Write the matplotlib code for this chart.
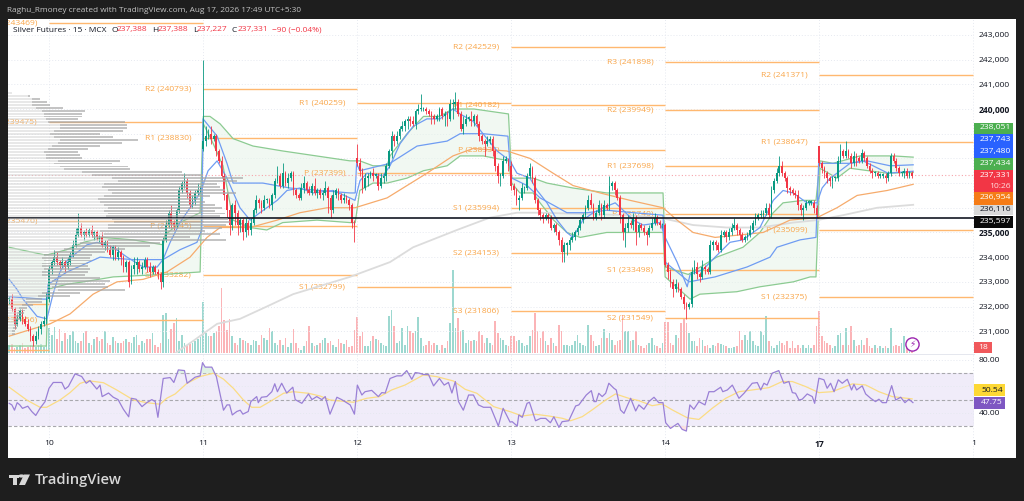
import matplotlib
matplotlib.use("Agg")
import matplotlib.pyplot as plt
import numpy as np
from matplotlib.patches import Rectangle, Polygon, Circle

plt.rcParams['font.family'] = ['Open Sans', 'DejaVu Sans']

W, H = 1024, 501

# closes per session, in hundreds of rupees
close_d09 = [2323,2319,2313,2315,2318,2315,2313,2311,2308,2306,2308,2311,2313,2314,2323]
close_d10 = [2335,2338,2340,2338,2337,2338,2336,2338,2341,2345,
             2349,2352,2349,2350,2349,2351,2349,2350,2348,2348,
             2345,2346,2343,2341,2344,2340,2342,2340,2336,2338,
             2330,2335,2337,2338,2335,2336,2339,2336,2334,2336,
             2334,2333,2330,2347,2353,2358,2354,2353,2359,2367,
             2370,2371,2366,2361,2363,2366,2367,2368]
close_d11 = [2387,2389,2390,2388,2389,2383,2379,2373,2365,2359,
             2353,2361,2358,2353,2355,2350,2354,2351,2354,2359,
             2363,2362,2360,2363,2363,2361,2365,2371,2373,2369,
             2374,2370,2372,2374,2367,2365,2364,2368,2370,2367,
             2366,2369,2366,2367,2365,2366,2368,2364,2359,2365,
             2367,2365,2363,2364,2363,2361,2354,2353]
close_d12 = [2378,2375,2368,2372,2373,2374,2373,2373,2369,2372,
             2373,2377,2383,2389,2387,2389,2392,2393,2395,2396,
             2395,2394,2399,2400,2400,2400,2399,2398,2397,2396,
             2397,2400,2397,2398,2396,2402,2402,2403,2398,2392,
             2394,2396,2396,2395,2397,2394,2389,2387,2386,2387,
             2388,2383,2377,2373,2373,2379,2379,2377]
close_d13 = [2369,2367,2363,2364,2368,2368,2373,2376,2372,2363,
             2359,2357,2356,2357,2356,2352,2353,2350,2347,2342,
             2345,2345,2347,2348,2350,2352,2355,2357,2360,2363,
             2361,2356,2358,2361,2357,2361,2360,2369,2370,2367,
             2364,2357,2350,2352,2354,2353,2356,2350,2353,2352,
             2350,2349,2352,2354,2356,2354,2353,2353]
close_d14 = [2337,2334,2330,2327,2329,2327,2324,2321,2320,2321,
             2334,2336,2333,2332,2336,2335,2334,2345,2346,2345,
             2343,2349,2350,2348,2350,2352,2353,2351,2349,2347,
             2348,2349,2351,2354,2356,2357,2357,2358,2360,2357,
             2367,2371,2374,2377,2374,2372,2368,2367,2366,2365,
             2361,2359,2360,2362,2362,2362,2360,2357]
close_d17 = [2378,2376,2374,2372,2371,2372,2372,2379,2383,2381,
             2383,2381,2378,2381,2380,2379,2382,2380,2377,2375,
             2374,2374,2373,2373,2373,2372,2374,2381,2379,2376,
             2374,2374,2375,2373,2374,2373]
gap_opens = {73: 2384, 131: 2380, 305: 2385}

# upper and lower wicks beyond the body, same units
up_d09 = [1,2,1,2,1,1,1,2,1,1,2,1,1,2,3]
dn_d09 = [2,1,2,1,1,2,1,1,2,2,1,1,2,1,1]
up_d10 = [2,1,3,2,1,2,1,2,1,2, 3,6,2,1,2,1,2,1,1,1, 2,1,1,2,1,1,2,1,1,1,
          1,2,3,2,1,2,1,1,2,1, 1,1,1,1,2,1,3,1,1,2, 1,3,1,1,2,1,3,1]
dn_d10 = [1,2,1,1,2,1,2,1,1,1, 1,1,1,2,1,1,1,2,1,2, 1,2,1,1,2,1,1,3,2,2,
          2,1,2,4,1,2,1,2,2,1, 1,2,3,2,1,1,2,2,1,1, 1,2,2,1,1,2,1,1]
up_d11 = [33,4,2,3,1,1,1,2,1,1, 2,1,2,1,1,1,2,1,2,1, 2,1,1,2,1,1,1,1,4,1,
          4,1,2,1,1,1,1,2,3,1, 2,1,3,1,1,1,3,1,1,2, 1,1,1,2,1,1,1,1]
dn_d11 = [1,2,1,2,1,2,1,1,2,3, 4,2,5,4,3,3,2,2,2,1, 1,2,2,1,1,1,2,1,1,1,
          1,1,2,1,2,1,1,1,2,1, 1,1,1,2,1,2,1,6,3,1, 1,2,1,1,1,2,2,7]
up_d12 = [6,2,1,2,1,1,2,1,1,2, 1,1,1,2,1,2,1,2,1,1, 1,2,1,2,6,1,1,1,1,1,
          1,1,1,1,1,2,2,4,1,1, 3,2,1,3,1,1,1,1,1,2, 1,1,1,1,1,2,2,1]
dn_d12 = [1,2,2,1,3,1,2,1,2,1, 2,2,1,3,2,1,1,1,2,3, 2,1,2,1,1,1,1,1,3,2,
          1,2,1,4,3,1,6,2,1,1, 2,1,1,2,2,1,2,1,5,1, 1,2,2,3,4,1,1,2]
up_d13 = [2,1,1,1,2,1,1,2,1,1, 1,1,1,1,1,1,1,1,1,1, 1,1,1,2,1,1,1,1,1,2,
          3,1,1,2,1,2,1,4,1,1, 1,1,1,2,3,1,2,1,1,1, 1,1,1,2,2,1,1,1]
dn_d13 = [2,2,2,4,1,2,1,1,2,1, 2,2,2,1,2,1,2,1,2,4, 4,4,2,1,1,1,1,1,1,1,
          1,1,1,1,2,1,1,1,2,2, 1,3,3,6,2,1,2,5,2,1, 1,4,1,1,1,1,1,1]
up_d14 = [1,1,1,1,2,1,1,1,1,1, 2,3,2,1,3,1,1,2,1,1, 1,2,1,1,2,2,3,1,1,1,
          1,1,2,1,2,1,2,1,2,2, 2,1,2,4,2,1,1,1,1,1, 2,1,1,1,1,1,1,1]
dn_d14 = [1,3,2,3,1,1,1,2,5,1, 1,1,2,2,1,2,1,1,2,2, 1,1,1,2,1,1,1,2,2,1,
          1,1,1,1,1,1,1,1,1,1, 1,1,1,1,1,1,2,2,1,1, 2,2,4,1,1,1,2,1]
up_d17 = [0,1,1,1,1,1,1,2,3,1, 4,1,1,2,1,1,2,1,1,1, 1,1,1,1,1,1,1,1,1,1, 1,1,1,1,1,1]
dn_d17 = [1,2,2,2,2,3,1,1,1,1, 1,1,2,1,3,1,1,1,1,1, 2,1,1,1,1,2,1,1,1,1, 1,1,2,1,1,1]

# volume per bar
vol_d09 = [8,9,5,6,8,10,5,6,8,7,6,8,9,6,22]
vol_d10 = [25,18,26,14,24,12,20,14,18,22, 12,10,12,20,22,10,8,14,16,12,
           14,22,10,8,16,12,10,10,12,14, 11,10,16,18,8,12,10,14,14,20,
           8,6,10,38,40,14,24,30,35,12, 18,10,8,9,10,12,14,16]
vol_d11 = [51,20,17,17,20,22,27,65,33,23, 34,17,10,8,15,13,12,10,8,13,
           12,8,18,15,13,25,22,10,8,13, 8,15,6,10,24,10,5,3,7,12,
           27,10,7,8,10,13,15,10,12,8, 6,14,10,9,13,6,7,23]
vol_d12 = [36,17,21,7,7,12,17,14,13,10, 8,7,37,43,27,10,12,25,8,27,
           22,20,22,36,15,7,8,12,8,10, 8,3,8,5,12,30,83,25,35,22,
           23,10,13,12,13,12,22,18,10,15, 10,8,32,20,15,13,8,7]
vol_d13 = [17,17,12,13,10,7,8,17,23,40, 22,15,22,12,8,15,10,7,28,22,
           8,8,7,8,12,18,10,8,7,28, 18,12,7,8,15,24,15,20,13,8,
           12,13,38,22,22,12,13,22,8,7, 5,8,10,15,8,7,5,10]
vol_d14 = [31,31,10,8,18,15,30,34,30,20, 12,12,7,15,13,7,8,5,8,7,
           10,9,8,7,5,5,6,7,22,13, 18,13,22,12,8,7,22,18,37,12,
           7,5,8,12,10,8,12,5,12,5, 8,5,8,5,8,5,8,27]
vol_d17 = [42,17,12,10,8,5,7,18,20,8, 25,8,27,13,7,8,13,8,15,7,
           5,8,5,7,5,7,5,25,7,8, 7,10,17,8,7,3]

# overlay lines: bar number and price (hundreds)
fast_bars = [0,2.9,5.2,10.5,14.2,16.5,19.1,22.1,29.3,33.1,
             39.1,44.4,50.4,55.7,57.9,60.6,64.3,68.1,71.9,74.9,
             78.3,82,86.9,90.7,94.4,100.9,104.6,109.5,114.4,121.9,
             128.3,130.2,132.1,134.7,140.8,143.4,147.2,152.1,157.3,162.2,
             167.1,169.8,174.7,178.4,183.7,188.6,191.2,196.1,198.8,202.5,
             206.3,210,212.3,216,219.9,223.6,228.2,231.2,235,238.7,
             245.1,247,251.5,255.3,256.4,261.3,265.8,271.4,276.3,282.7,
             287.7,291.4,295.2,300.4,304.2,306.1,309.1,311.7,316.6,321.5,
             325.3,330.9,340.4]
fast_vals = [2331,2327,2323,2316,2315,2325,2334,2339,2345,2346,
             2344,2340,2336,2336,2339,2346,2354,2360,2366,2375,
             2379,2372,2360,2355,2358,2363,2367,2368,2366,2367,
             2364,2363,2371,2374,2373,2377,2386,2393,2396,2396,
             2400,2398,2395,2390,2383,2379,2374,2372,2367,2362,
             2355,2350,2348,2355,2358,2360,2362,2359,2355,2353,
             2354,2348,2338,2328,2333,2335,2340,2346,2347,2352,
             2363,2367,2366,2362,2362,2368,2372,2374,2378,2379,
             2377,2374,2374.8]
slow_bars = [0,13,14.3,14.6,21.8,34.2,46.6,57.9,64.3,70.7,
             72.5,73,78.3,82,84.3,95.5,105.7,128.3,130.3,130.8,
             132,143.4,153.6,164.9,169.8,178.4,187.8,188.6,189.3,195,
             199.9,205,210,217.6,225.1,235,246.2,247,256,265.8,
             277.8,286.5,289.1,297.8,303.8,304.8,316.6,323,331.7,340.4]
slow_vals = [2324,2323,2323,2329,2334,2340,2339,2339,2343,2346,
             2351,2396,2389,2378,2370,2370,2368,2366,2366,2378,
             2375,2378,2385,2387,2390,2390,2389,2377,2372,2369,
             2364,2361,2358,2358,2359,2358,2357,2338,2330,2332,
             2336,2340,2344,2347,2348,2378,2378,2379,2377,2377.4]
ema_bars = [0,9,15.4,22.9,31.6,40.6,50.4,59.4,68.1,74.5,
            79.4,90.7,100.9,109.5,119.7,130.2,142.3,149.8,157.3,167.1,
            174.7,187.4,196.1,204.8,212.3,222.5,233.8,246.2,251.5,257.5,
            265.8,275.2,283.9,294,304.2,311.7,319.3,330.6,340.4]
ema_vals = [2308,2311,2313,2317,2325,2330,2331,2334,2340,2348,
            2352,2352,2355,2358,2360,2360,2364,2369,2374,2381,
            2384,2383,2380,2374,2369,2366,2363,2360,2355,2350,
            2348,2349,2350,2355,2356,2360,2365,2367,2369.5]
ma200_bars = [62.4,69.2,78.3,86.9,97,106.9,128.3,143.4,152.1,168.6,181,191.2,
              199.9,232.6,245,257.5,270.2,282.7,295.2,304.2,314,326.8,340.4]
ma200_vals = [2301,2306,2313,2315,2320,2325,2332,2338,2344,2351,2356,2358,
              2358,2357,2356,2353,2352,2352,2354,2355,2357,2360,2361.2]

# VWAP bands, one pair per session
upper_bars = [[0,13,14],
              [14.6,21.6,28,35.3,46.7,58,58.7,64.3,71.9],
              [73.1,75.6,79.4,84.3,91.8,103,128.3,130.3],
              [132,137,142.3,143.4,149.8,156,162,167,175,188],
              [189.2,197.3,202.5,212.3,225,246.2],
              [247.3,252.6,255.7,266.4,276.3,282.7,287.7,291.4,299,303.8],
              [305.3,310.2,320.4,333,340.4]]
upper_vals = [[2344,2341,2341],
              [2341,2343,2346,2348,2347,2345,2349,2354,2358],
              [2397,2397,2394,2388,2385,2383,2379,2379],
              [2379,2377,2377,2381,2390,2397,2397,2400,2400,2398],
              [2372,2372,2370,2368,2366,2366],
              [2336,2334,2333,2340,2344,2350,2358,2362,2363,2363],
              [2379,2378,2381,2381,2380.5]]
lower_bars = [[0,14],
              [14.6,21.6,28,39.2,58,71.9],
              [73.1,76.8,80.5,84.3,90.7,97,103,115.9,128.3,130.3],
              [132,137,142.3,149.8,156,164.9,169.8,178.5,188],
              [189.2,192.3,197.3,199.9,205,210,215,225,237.6,246.2],
              [247,256.4,260.1,274,282.7,295.3,301.6,303.8],
              [305.3,311.7,316.6,330.6,340.4]]
lower_vals = [[2304,2304],
              [2327,2329,2330,2332,2333,2334],
              [2394,2386,2377,2355,2352,2351,2354,2355,2354,2354],
              [2367,2370,2370,2372,2375,2377,2381,2381,2379],
              [2370,2366,2366,2362,2355,2350,2348,2350,2350,2350],
              [2332,2323,2325,2326,2328,2330,2332,2332],
              [2376,2372,2376,2374,2374.3]]

# daily pivot levels
pivot_start = [-1,15,73,131,189,247,305]
pivot_end = [15,73,131,189,247,305,363]
pivot_names = [[],
               ['R2','R1','P','S1'],
               ['R2','R1','P','S1'],
               ['R1','P','S1'],
               ['R2','R1','P','S1','S2','S3'],
               ['R3','R2','R1','P','S1','S2'],
               ['R2','R1','P','S1']]
pivot_levels = [[232100,230240],
                [243469,239475,235470,231456],
                [240793,238830,235245,233282],
                [240259,237399,232799],
                [242529,240182,238337,235994,234153,231806],
                [241898,239949,237698,235740,233498,231549],
                [241371,238647,235099,232375]]

# volume profile rows, top to bottom
vp_total = [4,22,32,39,42,55,77,74,74,70,117,119,119,115,92,105,130,114,92,80,
            70,72,74,112,104,120,122,174,195,235,229,209,212,217,228,202,192,197,207,214,
            207,217,212,220,222,218,214,197,212,182,218,152,142,117,97,84,82,84,80,80,
            82,80,77,92,102,97,100,117,72,62,34,34,25,19,17,16,14,12,10,10,9,7,7]
vp_light = [4,20,24,24,24,28,34,36,36,38,40,52,52,46,42,46,52,50,44,40,
            36,38,38,50,46,52,56,74,84,104,110,96,94,100,104,96,90,92,96,100,
            96,100,98,104,106,100,100,92,96,84,100,72,66,56,46,36,34,36,34,34,
            36,34,34,40,44,42,44,50,34,30,18,18,14,11,10,9,8,7,6,6,5,4,4]

# RSI and its average
rsi_bars = [0,1,2,3,4,5,7,8.5,10,11.6,
            13.5,15,16.6,19.8,21,22.3,24.8,27.3,29,30.4,
            33,34.2,35,37.4,39.2,41,43,45,46,47.8,
            50,51.8,53.7,55,56,58,60.6,62,63.7,66,
            67,70,71.9,72.8,73.8,76.3,78,80.7,82,83,
            84,85.7,87,88,90,91,93.2,93.8,95,97,
            98.9,100,101,102.6,104.5,106.8,107.7,110.2,112.7,114,
            115.8,117.7,119,120.8,123.4,125.2,128.4,130,131.1,132.8,
            134,136.5,139,140.3,141.6,143.4,146,147.8,149.7,151.6,
            152.9,154.5,156,157.9,159.8,162,163.8,165.4,166.7,168,
            169.2,171,173,174.8,176.7,178.6,181.3,184.2,186,188.6,
            189.4,191.3,191.9,193.2,195,195.9,198.2,200.1,202,203.8,
            205.1,207,208.2,210.7,213.3,214.5,217.3,219.2,220.2,221,
            222,223.3,224.6,225.8,227.7,228.6,230.2,231.5,234,235.9,
            237.1,239,240.9,242.8,244.6,246.2,247.2,249,251.8,253.4,
            255,256.3,257.8,259.7,262,263.5,265.4,267.9,268.7,270.4,
            272.3,274.8,276.7,279.8,281.7,283,284.2,285.4,287.3,289.8,
            291.7,293.6,294.9,296.1,297.4,298.6,300.5,302.4,303.3,304.9,
            306.8,308,309.3,310.6,312.2,313.7,315.6,317.2,318.1,319.1,
            321.2,322.5,324.4,326.2,327.5,328.8,330.3,332.3,333.8,335.7,
            337.3,338.8,340.3]
rsi_vals = [47.2,46,42,47.7,46,43.4,45,41,38,43.4,
            48.5,58.6,63,63,58,60,69.5,67.5,62.4,64.4,
            58,61,52.3,55,51.8,50,42.7,37,51,50.3,
            44.7,47.7,50,48.5,36.6,66,66.7,63,72.5,72,
            62.4,67,68,78,74.6,74.6,67.5,42,46,46,
            38.4,41,42,39,41,48.5,52.3,47.7,51.8,52.3,
            56,62,56,62.4,55,59.4,50,47.2,54.3,50,
            52.3,50,52.3,39,51.8,50,46,39,61,53.5,
            56,57,52.3,55.3,55,66,68,68,72,65.4,
            70.5,70,69,69,60.4,66,61,63,55,63.7,
            48.5,42,53.5,53.5,46,44.2,44.2,30,43.4,33,
            33.3,30,38.4,36.6,47.2,48,34,35.8,35.8,32.5,
            37,29,33.3,34,45.2,46,53.5,56.8,48.5,48.5,
            54.8,52.3,54.8,62.4,58.6,57.3,42.2,39.6,51,41.4,
            46,42.7,48.5,51.8,47.7,47.7,32.5,28.2,32,27.5,
            26.2,46,42.7,48.5,46,56,56,59.4,56,57.3,
            61,51,54.8,62.4,62.9,57.3,62.4,61,70,72,
            62.4,63.7,55.3,54.8,49.7,50.3,54.3,52.3,47.2,66.2,
            65,58.6,62.4,56,65,62.4,65.4,57.3,61.6,57.3,
            60.4,54.3,51,48.5,50.3,47.7,47.7,60.6,49.7,51.8,
            47.7,50.3,47.75]
rsi_ma_bars = [0,6.6,11.6,14.1,19.1,22.9,26.7,29.8,35.5,40.5,46.8,51.8,56.8,59.3,62.5,66.9,
               71.9,76.9,80.7,84.4,88.2,91.3,94.5,98.2,103.3,107,112.7,117.1,120.8,129.6,
               134.6,139.6,144,149.1,156,161,167.3,171.7,176.1,182.4,188.6,193.2,198.2,
               203.2,208.2,211.4,215.8,219.5,224.6,228.3,233.3,237.1,242.1,245.9,249.7,
               255.3,259.7,264.7,269.8,274.8,279.8,286.1,291.1,294.9,299.9,304.9,309.9,
               317.5,322.5,327.5,332.5,340]
rsi_ma_vals = [59.4,49.7,44.2,44.2,49.7,55.3,62.3,64.3,62.8,57.3,49.7,47.7,46.5,51,54.3,62.3,
               67.5,70,65.5,58.6,49.7,44.2,44.2,48.5,54.8,56,54.8,52.7,49.7,48,
               51,52.3,57.3,61.1,68.7,67.4,64.1,57.8,54.8,44.7,40.9,37.6,38.9,
               37.6,35.9,34,37.1,42.2,49.7,54.3,51,49.2,45.4,46.7,42.2,
               36.3,35,43.4,51,56,57.3,59.1,63.7,63.7,59.9,55.3,56,
               61.9,61.1,56,52.3,50.54]

day_ticks = [15,73,131,189,247,305,363]
day_labels = ['10','11','12','13','14','17','1']
price_ticks = list(range(231000,244000,1000))
hidden_ticks = [236000,237000,238000,239000]  # sit behind the scale tags

last_price = 237331
open_val, high_val, low_val = '237,388', '237,388', '237,227'
level_line = 235597

GREEN = '#089981'
RED = '#f23645'
VOL_UP = '#9dd8d0'
VOL_DN = '#fbb4b7'
PIVOT = '#ffb870'
PIVOT_TXT = '#f9a64a'
FS = 6.1


def fx(x):
    return x / W


def fy(y):
    return 1 - y / H


def box(x0, y0, x1, y1, color, z=5, alpha=1):
    fig.add_artist(Rectangle((fx(x0), fy(y1)), fx(x1) - fx(x0), fy(y0) - fy(y1),
                             transform=fig.transFigure, facecolor=color, edgecolor='none',
                             zorder=z, alpha=alpha))


def label(x, y, s, color='#131722', size=FS, ha='left', z=8, **kw):
    fig.text(fx(x), fy(y), s, color=color, fontsize=size, ha=ha, va='center', zorder=z, **kw)


close = np.array(close_d09 + close_d10 + close_d11 + close_d12 + close_d13 + close_d14 + close_d17, float)
up = np.array(up_d09 + up_d10 + up_d11 + up_d12 + up_d13 + up_d14 + up_d17, float)
dn = np.array(dn_d09 + dn_d10 + dn_d11 + dn_d12 + dn_d13 + dn_d14 + dn_d17, float)
vol = np.array(vol_d09 + vol_d10 + vol_d11 + vol_d12 + vol_d13 + vol_d14 + vol_d17, float)
opn = np.r_[close[0], close[:-1]]
for k, v in gap_opens.items():
    opn[k] = v
bars = np.arange(len(close))
rising = close >= opn
top = np.maximum(opn, close)
bot = np.minimum(opn, close)

fig = plt.figure(figsize=(W / 100, H / 100), dpi=100, facecolor='#1e1e1e')
box(8, 19, 1016, 458, 'white', z=-5)

xlim = (-0.45, 363.3)
ylim = (230118, 243645)
pos = [fx(8), fy(353), fx(974) - fx(8), fy(19) - fy(353)]

vol_ax = fig.add_axes(pos, zorder=1)
vol_ax.set_xlim(xlim)
vol_ax.set_ylim(0, 334)
vol_ax.patch.set_visible(False)
vol_ax.axis('off')
vol_ax.bar(bars, vol, width=0.62, color=np.where(rising, VOL_UP, VOL_DN))

ax = fig.add_axes(pos, zorder=2)
ax.patch.set_visible(False)
ax.set_xlim(xlim)
ax.set_ylim(ylim)
for s in ax.spines.values():
    s.set_visible(False)
ax.set_xticks(day_ticks)
ax.set_xticklabels([])
ax.set_yticks(price_ticks)
ax.yaxis.tick_right()
ax.tick_params(axis='both', length=0)
ax.tick_params(axis='y', pad=3.6, labelsize=FS, labelcolor='#131722')
ax.set_yticklabels(['' if p in hidden_ticks else f'{p:,}' for p in price_ticks])
for t, p in zip(ax.get_yticklabels(), price_ticks):
    if p in (240000, 235000):
        t.set_fontweight('bold')
ax.grid(color='#e6e9f0', ls=(0, (1, 2)), lw=0.7)
ax.set_axisbelow(True)

# pivots
for s, e, names, levels in zip(pivot_start, pivot_end, pivot_names, pivot_levels):
    ax.hlines(levels, s, e, color=PIVOT, lw=1, zorder=2)
    for n, v in zip(names, levels):
        ax.text(s - 4.5, v, f'{n} ({v})', color=PIVOT_TXT, fontsize=FS, ha='right', va='center',
                zorder=2, clip_on=True)

# bands
for xu, yu, xl, yl in zip(upper_bars, upper_vals, lower_bars, lower_vals):
    ax.fill(xu + xl[::-1], (np.array(yu + yl[::-1]) * 100), color='#e6f4e8', alpha=0.55, lw=0, zorder=1)
ax.plot(sum(upper_bars, []), np.array(sum(upper_vals, [])) * 100, color='#8ccb92', lw=0.9, zorder=3)
ax.plot(sum(lower_bars, []), np.array(sum(lower_vals, [])) * 100, color='#8ccb92', lw=0.9, zorder=3)
ax.plot(ma200_bars, np.array(ma200_vals) * 100, color='#dcdcdc', lw=1.3, zorder=3)
ax.plot(ema_bars, np.array(ema_vals) * 100, color='#f6ab6c', lw=0.9, zorder=3)
ax.plot(slow_bars, np.array(slow_vals) * 100, color='#6f9cf2', lw=0.9, zorder=3)
ax.plot(fast_bars, np.array(fast_vals) * 100, color='#6f9cf2', lw=0.9, zorder=3)

# candles
cols = np.where(rising, GREEN, RED)
ax.vlines(bars, (bot - dn) * 100, (top + up) * 100, color=cols, lw=0.6, zorder=4)
ax.bar(bars, np.maximum(top - bot, 0.6) * 100, bottom=bot * 100, width=0.64, color=cols, zorder=4)

ax.axhline(last_price, color='#f6a5ab', ls=(0, (1, 2)), lw=0.8, zorder=3)
ax.axhline(level_line, color='#131722', lw=1.2, zorder=6)

# volume profile on top of the candles
vp_ax = fig.add_axes(pos, zorder=3)
vp_ax.patch.set_visible(False)
vp_ax.axis('off')
vp_ax.set_xlim(0, 966)
vp_ax.set_ylim(ylim)
rows = np.linspace(240000 - (93 - 109) * 40.5, 240000 - (334 - 109) * 40.5, len(vp_total))
vp_ax.barh(rows, vp_light, height=78, color='#d2d2d2', alpha=0.5, lw=0)
vp_ax.barh(rows, np.array(vp_total) - np.array(vp_light), left=vp_light, height=78,
           color='#a8a8a8', alpha=0.68, lw=0)

# RSI pane
rsi_ax = fig.add_axes([fx(8), fy(458), fx(974) - fx(8), fy(353) - fy(458)], zorder=2)
rsi_ax.patch.set_visible(False)
rsi_ax.set_xlim(xlim)
rsi_ax.set_ylim(5.8, 85.3)
for s in rsi_ax.spines.values():
    s.set_visible(False)
rsi_ax.axhspan(30, 70, color='#f0ecf9', lw=0, zorder=0)
rsi_ax.hlines([70, 50, 30], xlim[0], xlim[1], color='#a8a8ad', ls=(0, (3, 2)), lw=0.8, zorder=1)
rsi_ax.set_xticks(day_ticks)
rsi_ax.set_xticklabels(day_labels, fontsize=FS, color='#131722')
rsi_ax.get_xticklabels()[5].set_fontweight('bold')
rsi_ax.set_yticks([80, 60, 40])
rsi_ax.set_yticklabels(['80.00', '', '40.00'], fontsize=FS, color='#131722')
rsi_ax.yaxis.tick_right()
rsi_ax.tick_params(axis='both', length=0)
rsi_ax.tick_params(axis='y', pad=3.6)
rsi_ax.tick_params(axis='x', direction='in', pad=-13)
rsi_ax.grid(color='#e6e9f0', ls=(0, (1, 2)), lw=0.7)
rsi_ax.set_axisbelow(True)
rx = np.array(rsi_bars)
ry = np.array(rsi_vals)
rsi_ax.fill_between(rx, ry, 70, where=ry > 70, color='#dff2e4', lw=0, interpolate=True, zorder=1)
rsi_ax.fill_between(rx, ry, 30, where=ry < 30, color='#fbe0e0', lw=0, interpolate=True, zorder=1)
rsi_ax.plot(rsi_ma_bars, rsi_ma_vals, color='#fbdc84', lw=0.9, zorder=2)
rsi_ax.plot(rx, ry, color='#9a80d6', lw=0.9, zorder=3)

fig.add_artist(plt.Line2D([fx(8), fx(974)], [fy(353.5)] * 2, color='#e0e3eb', lw=0.6, zorder=4))

# scale tags on the right
box(974, 123, 1013, 133.5, '#4caf50', z=6)
box(974, 134, 1013, 157.5, '#2962ff', z=6)
box(974, 158, 1013, 169.5, '#4caf50', z=6)
box(974, 170, 1013, 192, '#f23645', z=6)
box(974, 192, 1013, 204.5, '#f57c17', z=6)
box(974, 205, 1013, 215.5, '#d9d9d9', z=6)
box(974, 216, 1013, 227.5, '#0b0b0b', z=6)
label(1011, 128, '238,051', 'white', ha='right')
label(1011, 139.5, '237,743', 'white', ha='right')
label(1011, 151, '237,480', 'white', ha='right')
label(1011, 163.5, '237,434', 'white', ha='right')
label(1011, 176, f'{last_price:,}', 'white', ha='right')
label(1011, 186, '10:26', '#fdd', ha='right')
label(1011, 198, '236,954', 'white', ha='right')
label(1011, 210, '236,116', '#131722', ha='right')
label(1011, 221.5, f'{level_line:,}', 'white', ha='right')
box(974, 342, 992, 353, '#f0585b', z=6)
label(983, 347.5, str(int(18)), 'white', ha='center')
box(974, 384, 1005, 396, '#fdd835', z=6)
box(974, 397, 1005, 408.5, '#7e57c2', z=6)
label(1003, 390, '50.54', '#131722', ha='right')
label(1003, 402.5, '47.75', 'white', ha='right')

# lightning badge
fig.add_artist(plt.Line2D([fx(912)], [fy(344)], marker='o', ms=9.5, mfc='white', mec='#9c27b0', mew=1,
                          transform=fig.transFigure, zorder=7))
fig.text(fx(912), fy(344), '\u26a1', color='#9c27b0', fontsize=6.5, ha='center', va='center', zorder=8,
         family=['DejaVu Sans'])

# header
label(7, 11, 'Raghu_Rmoney created with TradingView.com, Aug 17, 2026 17:49 UTC+5:30', '#c4c4c4', size=5.95)
label(13, 30, 'Silver Futures \u00b7 15 \u00b7 MCX', '#131722', size=6.0)
for x, s, c in [(111, 'O', '#131722'), (117, open_val, RED), (152, 'H', '#131722'), (158, high_val, RED),
                (193, 'L', '#131722'), (197, low_val, RED), (232, 'C', '#131722'), (238, f'{last_price:,}', RED),
                (272, '\u221290 (\u22120.04%)', RED)]:
    label(x, 30, s, c, size=6.0)

# footer logo
box(8.5, 474.5, 19, 477.5, '#d8d8d8', z=6)
box(12.5, 474.5, 16.5, 485, '#d8d8d8', z=6)
fig.add_artist(Polygon([(fx(24), fy(474.5)), (fx(30), fy(474.5)), (fx(25), fy(485)), (fx(19), fy(485))],
                       transform=fig.transFigure, fc='#d8d8d8', ec='none', zorder=6))
fig.add_artist(Circle((fx(21.5), fy(476)), 1.6 / H, transform=fig.transFigure, fc='#d8d8d8', ec='none', zorder=6))
label(35, 480, 'TradingView', '#d8d8d8', size=10.6, weight='semibold')

fig.savefig('out.png', dpi=100, facecolor=fig.get_facecolor())
